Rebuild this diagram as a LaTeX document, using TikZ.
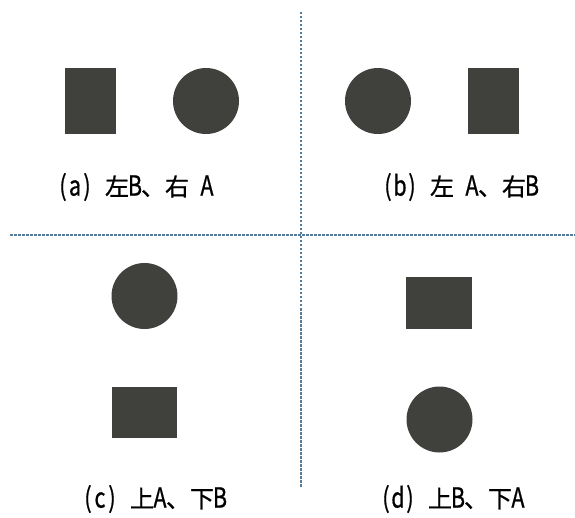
\documentclass[tikz,border=0pt]{standalone}
\usepackage{fontspec}
\setmainfont{Noto Sans CJK JP}
\newfontfamily\capfont[FakeBold=0.8]{Noto Sans CJK JP}
\usepackage{graphicx}
\usepackage{tikz}
\usetikzlibrary{positioning}
\definecolor{blockgray}{RGB}{64, 65, 61}
\definecolor{guideblue}{RGB}{85, 125, 155}
% half-width cell for latin letters, a bit narrow and tall
\newcommand{\hw}[1]{\makebox[0.5em]{\scalebox{0.9}[1.15]{#1}}}

\begin{document}
\begin{tikzpicture}[x=1pt, y=1pt,
  rectshape/.style={rectangle, fill=blockgray, inner sep=0pt},
  roundshape/.style={circle, fill=blockgray, inner sep=0pt, minimum size=66pt},
  caption/.style={font=\capfont\fontsize{24}{28}\selectfont, inner sep=0pt},
  guide/.style={guideblue, line width=2pt, dash pattern=on 2.5pt off 1.5pt}]
  \useasboundingbox (0,0) rectangle (575,517);
  % Dividing lines
  \coordinate (hl) at (10,282);
  \coordinate (hr) at (575,282);
  \coordinate (vt) at (301,505);
  \coordinate (vb) at (301,30);
  \draw[guide] (hl) -- (hr);
  \draw[guide] (vt) -- (vb);
  % (a) square left, disc right
  \node[rectshape, minimum width=51pt, minimum height=66pt] (aB) at (90.5,416) {};
  \node[roundshape] (aA) at (206,416) {};
  \node[caption] (capa) at (135,330) {\hw{(}\hw{a}\hw{)}\hw{ }左\hw{B}、右\hw{ }\hw{A}};
  % (b) disc left, square right
  \node[roundshape] (bA) at (378,416) {};
  \node[rectshape, minimum width=51pt, minimum height=66pt] (bB) at (493.5,416) {};
  \node[caption] (capb) at (460,330) {\hw{(}\hw{b}\hw{)}\hw{ }左\hw{ }\hw{A}、右\hw{B}};
  % (c) disc above, square below
  \node[roundshape] (cA) at (144.5,221) {};
  \node[rectshape, minimum width=65pt, minimum height=51pt] (cB) at (144.5,104.5) {};
  \node[caption] (capc) at (154,18) {\hw{(}\hw{c}\hw{)}\hw{ }上\hw{A}、下\hw{B}};
  % (d) square above, disc below
  \node[rectshape, minimum width=66pt, minimum height=52pt] (dB) at (439,214) {};
  \node[roundshape] (dA) at (439.5,97.5) {};
  \node[caption] (capd) at (452,18) {\hw{(}\hw{d}\hw{)}\hw{ }上\hw{B}、下\hw{A}};
\end{tikzpicture}
\end{document}
